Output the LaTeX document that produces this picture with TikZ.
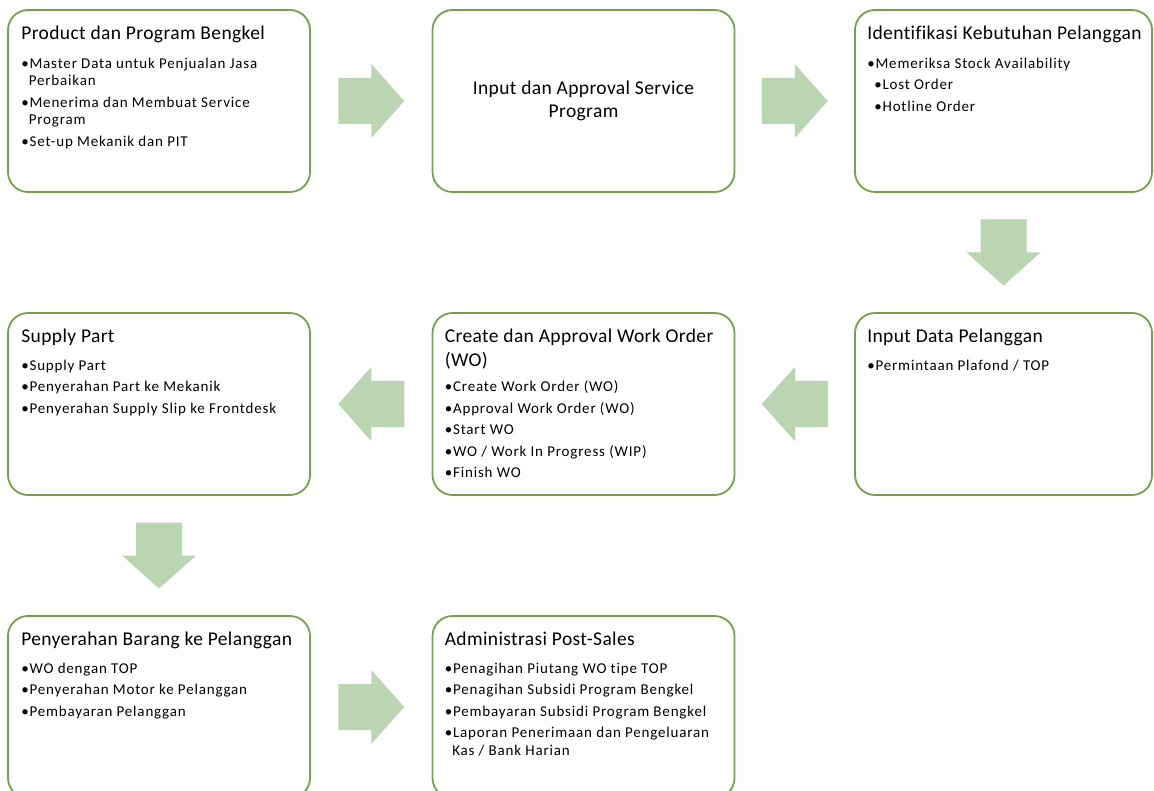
\documentclass[tikz,border=0pt]{standalone}
\usepackage{fontspec}
\setmainfont{Carlito}[Ligatures=NoCommon]
\newfontfamily\titlefont{Carlito}[LetterSpace=2,Ligatures=NoCommon]
\newfontfamily\listfont{Carlito}[LetterSpace=5.5,Ligatures=NoCommon]
\usetikzlibrary{calc}
\definecolor{boxgreen}{RGB}{116,162,74}
\definecolor{arrowgreen}{RGB}{186,213,178}
\newcommand{\bulletmark}{\textbullet}
\newcommand{\bulletgap}{\phantom{\textbullet}}
\tikzset{
  stepbox/.style={draw=boxgreen, line width=1.8pt, rounded corners=20pt, fill=white,
    minimum width=302pt, minimum height=182pt, inner sep=0pt},
  titletxt/.style={font=\titlefont\fontsize{19.5}{24}\selectfont, align=left, inner sep=0pt, anchor=north west},
  listtxt/.style={font=\listfont\fontsize{15}{17.5}\selectfont, align=left, inner sep=0pt, anchor=north west},
  blockarrow/.pic={\fill[arrowgreen] (-33,-23) -- (0,-23) -- (0,-37) -- (33,0) -- (0,37) -- (0,23) -- (-33,23) -- cycle;}
}
\begin{document}
\begin{tikzpicture}[x=1pt,y=-1pt]
\useasboundingbox (0,0) rectangle (1154,791);
% boxes
\node[stepbox] (b1) at (159,101) {};
\node[stepbox] (b2) at (583.5,101) {};
\node[stepbox, minimum width=297pt] (b3) at (1003.5,101) {};
\node[stepbox, minimum width=297pt] (b4) at (1003.5,404) {};
\node[stepbox] (b5) at (583.5,404) {};
\node[stepbox] (b6) at (159,404) {};
\node[stepbox] (b7) at (159,707) {};
\node[stepbox] (b8) at (583.5,707) {};
% texts
\node[titletxt] (t1) at ($(b1.north west)+(14,17)$) {Product dan Program Bengkel};
\node[listtxt] (l1) at ($(b1.north west)+(14,48.5)$) {\bulletmark Master Data untuk Penjualan Jasa\\ \bulletgap Perbaikan\\[4pt]
\bulletmark Menerima dan Membuat Service\\ \bulletgap Program\\[4pt]
\bulletmark Set-up Mekanik dan PIT};
\node[font=\titlefont\fontsize{19.5}{23}\selectfont, align=center] (t2) at (b2) {Input dan Approval Service\\Program};
\node[titletxt] (t3) at ($(b3.north west)+(13,17)$) {Identifikasi Kebutuhan Pelanggan};
\node[listtxt] (l3) at ($(b3.north west)+(13,48.5)$) {\bulletmark Memeriksa Stock Availability\\[4pt]
\hspace*{7pt}\bulletmark Lost Order\\[4pt]
\hspace*{7pt}\bulletmark Hotline Order};
\node[titletxt] (t4) at ($(b4.north west)+(13,17)$) {Input Data Pelanggan};
\node[listtxt] (l4) at ($(b4.north west)+(13,47.5)$) {\bulletmark Permintaan Plafond / TOP};
\node[titletxt] (t5) at ($(b5.north west)+(13,17)$) {Create dan Approval Work Order\\(WO)};
\node[listtxt] (l5) at ($(b5.north west)+(13,68.5)$) {\bulletmark Create Work Order (WO)\\[4pt]
\bulletmark Approval Work Order (WO)\\[4pt]
\bulletmark Start WO\\[4pt]
\bulletmark WO / Work In Progress (WIP)\\[4pt]
\bulletmark Finish WO};
\node[titletxt] (t6) at ($(b6.north west)+(14,17)$) {Supply Part};
\node[listtxt] (l6) at ($(b6.north west)+(14,47.5)$) {\bulletmark Supply Part\\[4pt]
\bulletmark Penyerahan Part ke Mekanik\\[4pt]
\bulletmark Penyerahan Supply Slip ke Frontdesk};
\node[titletxt] (t7) at ($(b7.north west)+(14,17)$) {Penyerahan Barang ke Pelanggan};
\node[listtxt] (l7) at ($(b7.north west)+(14,47.5)$) {\bulletmark WO dengan TOP\\[4pt]
\bulletmark Penyerahan Motor ke Pelanggan\\[4pt]
\bulletmark Pembayaran Pelanggan};
\node[titletxt] (t8) at ($(b8.north west)+(13,17)$) {Administrasi Post-Sales};
\node[listtxt] (l8) at ($(b8.north west)+(13,47.5)$) {\bulletmark Penagihan Piutang WO tipe TOP\\[4pt]
\bulletmark Penagihan Subsidi Program Bengkel\\[4pt]
\bulletmark Pembayaran Subsidi Program Bengkel\\[4pt]
\bulletmark Laporan Penerimaan dan Pengeluaran\\ \bulletgap Kas / Bank Harian};
% block arrows
\coordinate (a12) at ($(b1.east)!0.5!(b2.west)$);
\coordinate (a23) at ($(b2.east)!0.5!(b3.west)$);
\coordinate (a34) at ($(b3.south)!0.5!(b4.north)$);
\coordinate (a45) at ($(b4.west)!0.5!(b5.east)$);
\coordinate (a56) at ($(b5.west)!0.5!(b6.east)$);
\coordinate (a67) at ($(b6.south)!0.5!(b7.north)$);
\coordinate (a78) at ($(b7.east)!0.5!(b8.west)$);
\pic at (a12) {blockarrow};
\pic at (a23) {blockarrow};
\pic[rotate=-90] at (a34) {blockarrow};
\pic[rotate=180] at (a45) {blockarrow};
\pic[rotate=180] at (a56) {blockarrow};
\pic[rotate=-90] at (a67) {blockarrow};
\pic at (a78) {blockarrow};
\end{tikzpicture}
\end{document}
